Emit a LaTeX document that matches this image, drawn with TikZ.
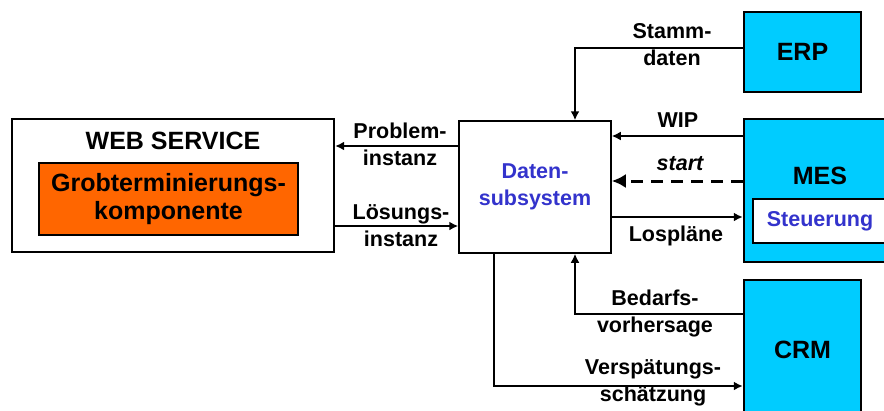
\documentclass[tikz,border=0pt]{standalone}
\usepackage{fontspec}
\setmainfont{Liberation Sans}
\usetikzlibrary{arrows.meta}
\definecolor{syscyan}{HTML}{00CCFF}
\definecolor{komporange}{HTML}{FF6600}
\definecolor{datenblau}{HTML}{3333CC}
\tikzset{
  sysbox/.style={draw, line width=2.5pt, fill=syscyan, inner sep=0pt},
  bigfont/.style={font=\fontsize{25}{28}\selectfont\bfseries},
  lbl/.style={align=center, inner sep=0pt, font=\fontsize{21.5}{27}\selectfont\bfseries},
  flow/.style={line width=2pt, -{Latex[length=9pt,width=9pt]}},
}
\begin{document}
\begin{tikzpicture}[x=1pt, y=-1pt]
    \useasboundingbox (0,0) rectangle (884,410);
    % systems
    \node[draw, line width=2.3pt, minimum width=322pt, minimum height=133pt] (web) at (173,185.5) {};
    \node[bigfont] (webtitle) at (173,141) {WEB SERVICE};
    \node[draw, line width=2pt, fill=komporange, minimum width=259pt, minimum height=72pt,
          align=center, bigfont] (grob) at (168.5,199) {Grobterminierungs-\\komponente};
    \node[draw, line width=1.5pt, minimum width=152pt, minimum height=132pt, align=center,
          lbl, text=datenblau, inner sep=0pt] (daten) at (535,187) {Daten-\\subsystem};
    \node[sysbox, bigfont, minimum width=117pt, minimum height=80pt] (erp) at (802.5,52) {ERP};
    \node[sysbox, minimum width=146pt, minimum height=143pt] (mes) at (817,190.5) {};
    \node[bigfont] (meslabel) at (820,176) {MES};
    \node[draw, line width=2pt, fill=white, minimum width=142pt, minimum height=44pt,
          lbl, text=datenblau] (steuerung) at (824,221) {\hspace*{-8pt}Steuerung};
    \node[sysbox, bigfont, minimum width=117pt, minimum height=140pt] (crm) at (802.5,350) {CRM};
    % flows
    \draw[flow] (erp.west |- 0,48) -| (daten.north -| 575,0);
    \draw[flow] (mes.west |- 0,136) -- (daten.east |- 0,136);
    \draw[line width=3pt, dash pattern=on 12pt off 8pt, -{Latex[length=14pt,width=14pt]}]
        (mes.west |- 0,181) -- (daten.east |- 0,181);
    \draw[flow] (daten.east |- 0,217) -- (mes.west |- 0,217);
    \draw[flow] (crm.west |- 0,314) -| (daten.south -| 575,0);
    \draw[flow] (daten.south -| 494,0) |- (crm.west |- 0,386);
    \draw[flow] (daten.west |- 0,146) -- (web.east |- 0,146);
    \draw[flow] (web.east |- 0,226) -- (daten.west |- 0,226);
    % labels
    \node[lbl] (lstamm) at (672,45) {Stamm-\\daten};
    \node[lbl] (lwip) at (678,120) {WIP};
    \node[lbl, font=\fontsize{21.5}{27}\selectfont\bfseries\itshape] (lstart) at (680,164) {start};
    \node[lbl] (llos) at (676,236) {Lospläne};
    \node[lbl] (lbedarf) at (655,313) {Bedarfs-\\vorhersage};
    \node[lbl] (lversp) at (653,383) {Verspätungs-\\schätzung};
    \node[lbl] (lproblem) at (400,144) {Problem-\\instanz};
    \node[lbl] (lloesung) at (401,226) {Lösungs-\\instanz};
\end{tikzpicture}
\end{document}
